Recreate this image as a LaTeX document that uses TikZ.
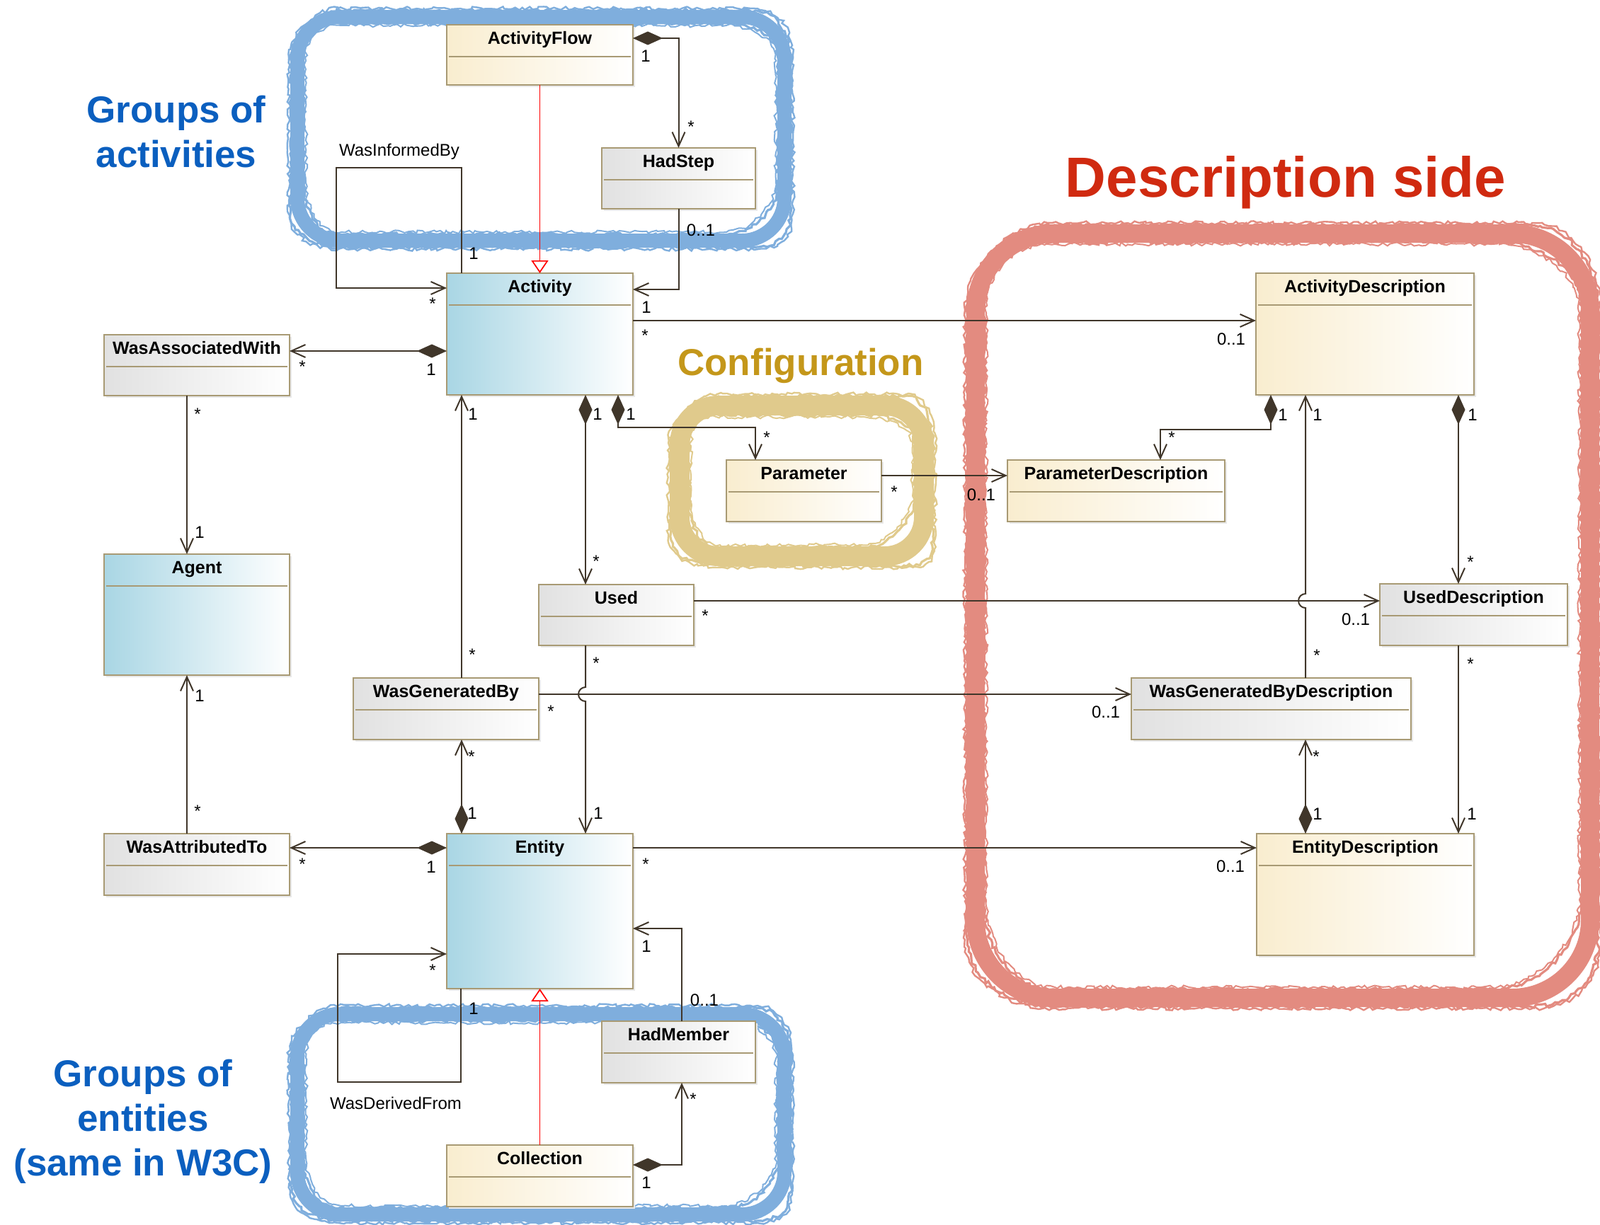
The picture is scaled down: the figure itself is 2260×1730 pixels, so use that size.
\documentclass[tikz,border=0pt]{standalone}
\usepackage{fontspec}
\setmainfont{Liberation Sans}
\usetikzlibrary{arrows.meta,calc,decorations.pathmorphing}

\definecolor{lnc}{HTML}{40362A}
\definecolor{clsborder}{HTML}{A89A74}
\definecolor{clsblue}{HTML}{A9D6E4}
\definecolor{clsyel}{HTML}{F9EDCF}
\definecolor{clsgray}{HTML}{E1E1E1}
\definecolor{blobblue}{HTML}{7FAEDD}
\definecolor{blobred}{HTML}{E38B80}
\definecolor{blobgold}{HTML}{E0CA8C}
\definecolor{txtblue}{HTML}{0B5FBF}
\definecolor{txtred}{HTML}{D02A10}
\definecolor{txtgold}{HTML}{C4971A}

\tikzset{
  clsbase/.style={rectangle, draw=clsborder, line width=0.9pt, inner sep=0pt, outer sep=0pt},
  bluecls/.style={clsbase, left color=clsblue, right color=white},
  yelcls/.style={clsbase, left color=clsyel, right color=white},
  graycls/.style={clsbase, left color=clsgray, right color=white},
  clstitle/.style={font=\fontsize{12.5}{15}\selectfont\bfseries, inner sep=0pt, text=black},
  sepline/.style={draw=clsborder, line width=0.7pt},
  boxshadow/.style={fill=black!9},
  mult/.style={font=\fontsize{12}{14}\selectfont, inner sep=0pt, text=black},
  conn/.style={draw=lnc, line width=1pt},
  assoc/.style={conn, -{Straight Barb[length=10pt,width=9pt,line width=1pt]}},
  comp/.style={conn, {Diamond[length=21pt,width=9.5pt,fill=lnc,line width=0.4pt]}-{Straight Barb[length=10pt,width=9pt,line width=1pt]}},
  gen/.style={draw=red, line width=0.85pt, -{Triangle[open,length=9pt,width=12pt,fill=white,line width=0.85pt]}},
  bigtxt/.style={font=\fontsize{26.5}{31}\selectfont\bfseries, inner sep=0pt, anchor=base},
  rough/.style={decorate, decoration={random steps, segment length=2.5pt, amplitude=1.3pt}},
}

\newcommand\umlbox[7]{%
  \pgfmathsetmacro\bw{(#4-#2)*0.5}%
  \pgfmathsetmacro\bh{(#5-#3)*0.5}%
  \fill[boxshadow] (#2+3,#3+3) rectangle (#4+3,#5+3);%
  \node[#7, anchor=north west, minimum width=\bw pt, minimum height=\bh pt] (#1) at (#2,#3) {};%
  \draw[sepline] ($(#1.north west)+(3,45)$) -- ($(#1.north east)+(-3,45)$);%
  \node[clstitle, anchor=base] (#1-t) at ($(#1.north)+(0,27)$) {#6};%
}
\newcommand\ml[4]{\node[mult] (#1) at (#2,#3) {#4};}

% rounded rectangle path: x1,y1,x2,y2,r  (px units)
\newcommand\rrpath[5]{(#1+#5,#2) -- (#3-#5,#2) .. controls (#3-0.448*#5,#2) and (#3,#2+0.448*#5) .. (#3,#2+#5) -- (#3,#4-#5) .. controls (#3,#4-0.448*#5) and (#3-0.448*#5,#4) .. (#3-#5,#4) -- (#1+#5,#4) .. controls (#1+0.448*#5,#4) and (#1,#4-0.448*#5) .. (#1,#4-#5) -- (#1,#2+#5) .. controls (#1,#2+0.448*#5) and (#1+0.448*#5,#2) .. (#1+#5,#2) -- cycle}

% blob: colour, x1,y1,x2,y2, half width (px), radius (px)
\newcommand\blob[7]{%
  \pgfmathsetmacro\bo{#6}%
  \pgfmathsetmacro\lw{#6}%
  \draw[#1, line width=\lw pt, line join=round] \rrpath{#2}{#3}{#4}{#5}{#7};%
  \draw[#1, line width=1.6pt, rough] \rrpath{#2-\bo+1}{#3-\bo+1}{#4+\bo-1}{#5+\bo-1}{#7+\bo};%
  \draw[#1, line width=1.6pt, rough] \rrpath{#2+\bo-1}{#3+\bo-1}{#4-\bo+1}{#5-\bo+1}{#7-\bo};%
  \draw[#1, line width=1.2pt, rough] \rrpath{#2-\bo-2}{#3-\bo-2}{#4+\bo+2}{#5+\bo+2}{#7+\bo};%
  \draw[#1, line width=1.0pt, rough] \rrpath{#2+\bo+2}{#3+\bo+2}{#4-\bo-2}{#5-\bo-2}{#7-\bo};%
}

\begin{document}
\begin{tikzpicture}[x=0.5pt, y=-0.5pt]
\useasboundingbox (0,0) rectangle (2260,1730);
\clip (0,0) rectangle (2260,1730);

% ---------- highlight blobs ----------
\blob{blobblue}{420}{24}{1108}{340}{10}{60}
\blob{blobblue}{420}{1433}{1108}{1716}{10}{60}
\blob{blobgold}{960}{573}{1305}{786}{14}{55}
\blob{blobred}{1378}{330}{2246}{1410}{13}{110}

% ---------- big labels ----------
\node[bigtxt, text=txtblue] (g1a) at (249,173) {Groups of};
\node[bigtxt, text=txtblue] (g1b) at (249,236) {activities};
\node[bigtxt, text=txtblue] (g2a) at (202,1535) {Groups of};
\node[bigtxt, text=txtblue] (g2b) at (202,1598) {entities};
\node[bigtxt, text=txtblue] (g2c) at (202,1661) {(same in W3C)};
\node[bigtxt, text=txtred, font=\fontsize{40}{46}\selectfont\bfseries] (dside) at (1816,278) {Description side};
\node[bigtxt, text=txtgold] (conf) at (1131,530) {Configuration};

% ---------- classes ----------
\umlbox{AF}{631}{35}{894}{120}{ActivityFlow}{yelcls}
\umlbox{HS}{850}{209}{1067}{295}{HadStep}{graycls}
\umlbox{Act}{631}{386}{894}{558}{Activity}{bluecls}
\umlbox{WAW}{147}{473}{409}{559}{WasAssociatedWith}{graycls}
\umlbox{Agent}{147}{783}{409}{954}{Agent}{bluecls}
\umlbox{Param}{1026}{650}{1245}{737}{Parameter}{yelcls}
\umlbox{PD}{1423}{650}{1730}{737}{ParameterDescription}{yelcls}
\umlbox{AD}{1774}{386}{2082}{558}{ActivityDescription}{yelcls}
\umlbox{Used}{761}{826}{980}{912}{Used}{graycls}
\umlbox{UD}{1949}{825}{2214}{912}{UsedDescription}{graycls}
\umlbox{WGB}{499}{958}{761}{1045}{WasGeneratedBy}{graycls}
\umlbox{WGBD}{1598}{958}{1993}{1045}{WasGeneratedByDescription}{graycls}
\umlbox{WAT}{147}{1178}{409}{1265}{WasAttributedTo}{graycls}
\umlbox{Ent}{631}{1178}{894}{1397}{Entity}{bluecls}
\umlbox{ED}{1775}{1178}{2082}{1350}{EntityDescription}{yelcls}
\umlbox{HM}{850}{1443}{1067}{1530}{HadMember}{graycls}
\umlbox{Coll}{631}{1618}{894}{1705}{Collection}{yelcls}

% ---------- connectors ----------
% ActivityFlow -> HadStep
\draw[comp] ($(AF.north east)+(0,19)$) -| (HS.north);
\ml{m1}{912}{79}{1} \ml{m2}{976}{179}{*}
% ActivityFlow generalizes Activity
\draw[gen] (AF.south) -- (Act.north);
% WasInformedBy
\draw[assoc] ($(Act.north west)+(21,0)$) -- ++(0,-149) -- ++(-177,0) -- ++(0,170) -- ($(Act.north west)+(0,21)$);
\node[mult] (wib) at (564,214) {WasInformedBy};
\ml{m3}{669}{358}{1} \ml{m4}{611}{429}{*}
% HadStep -> Activity
\draw[assoc] (HS.south) |- ($(Act.north east)+(0,23)$);
\ml{m5}{990}{325}{0..1} \ml{m6}{913}{434}{1}
% Activity -> ActivityDescription
\draw[assoc] ($(Act.north east)+(0,67)$) -- ($(AD.north west)+(0,67)$);
\ml{m7}{911}{474}{*} \ml{m8}{1739}{479}{0..1}
% Activity -> WasAssociatedWith
\draw[comp] ($(Act.north west)+(0,110)$) -- ($(WAW.north east)+(0,23)$);
\ml{m9}{609}{522}{1} \ml{m10}{427}{518}{*}
% WasAssociatedWith -> Agent
\draw[assoc] ($(WAW.south west)+(117,0)$) -- ($(Agent.north west)+(117,0)$);
\ml{m11}{279}{585}{*} \ml{m12}{282}{752}{1}
% Activity -> Used
\draw[comp] ($(Act.south west)+(196,0)$) -- ($(Used.north west)+(66,0)$);
\ml{m13}{844}{585}{1} \ml{m14}{842}{793}{*}
% Activity -> Parameter
\draw[comp] ($(Act.south west)+(242,0)$) -- ++(0,46) -| ($(Param.north west)+(41,0)$);
\ml{m15}{891}{585}{1} \ml{m16}{1083}{618}{*}
% Parameter -> ParameterDescription
\draw[assoc] ($(Param.north east)+(0,22)$) -- ($(PD.north west)+(0,22)$);
\ml{m17}{1263}{695}{*} \ml{m18}{1386}{699}{0..1}
% ActivityDescription -> ParameterDescription
\draw[comp] ($(AD.south west)+(21,0)$) -- ++(0,49) -| ($(PD.north west)+(216,0)$);
\ml{m19}{1812}{586}{1} \ml{m20}{1655}{618}{*}
% WasGeneratedByDescription -> ActivityDescription (hop)
\draw[assoc] ($(WGBD.north west)+(246,0)$) -- ++(0,-99) arc[start angle=270, end angle=90, radius=5pt] -- ($(AD.south west)+(70,0)$);
\ml{m21}{1861}{586}{1} \ml{m22}{1860}{926}{*}
% ActivityDescription -> UsedDescription
\draw[comp] ($(AD.south west)+(286,0)$) -- ($(UD.north west)+(111,0)$);
\ml{m23}{2080}{586}{1} \ml{m24}{2077}{794}{*}
% Used -> UsedDescription
\draw[assoc] ($(Used.north east)+(0,23)$) -- ($(UD.north west)+(0,24)$);
\ml{m25}{996}{870}{*} \ml{m26}{1915}{875}{0..1}
% Used -> Entity (hop)
\draw[assoc] ($(Used.south west)+(66,0)$) -- ++(0,59) arc[start angle=90, end angle=270, radius=5pt] -- ($(Ent.north west)+(196,0)$);
\ml{m27}{842}{937}{*} \ml{m28}{845}{1149}{1}
% WasGeneratedBy -> Activity
\draw[assoc] ($(WGB.north west)+(153,0)$) -- ($(Act.south west)+(21,0)$);
\ml{m29}{668}{585}{1} \ml{m30}{667}{925}{*}
% WasGeneratedBy -> WasGeneratedByDescription
\draw[assoc] ($(WGB.north east)+(0,23)$) -- ($(WGBD.north west)+(0,23)$);
\ml{m31}{778}{1005}{*} \ml{m32}{1562}{1006}{0..1}
% Entity -> WasGeneratedBy
\draw[comp] ($(Ent.north west)+(21,0)$) -- ($(WGB.south west)+(153,0)$);
\ml{m33}{667}{1149}{1} \ml{m34}{666}{1069}{*}
% Entity -> WasAttributedTo
\draw[comp] ($(Ent.north west)+(0,20)$) -- ($(WAT.north east)+(0,20)$);
\ml{m35}{609}{1225}{1} \ml{m36}{427}{1221}{*}
% WasAttributedTo -> Agent
\draw[assoc] ($(WAT.north west)+(117,0)$) -- ($(Agent.south west)+(117,0)$);
\ml{m37}{282}{983}{1} \ml{m38}{279}{1146}{*}
% Entity -> EntityDescription
\draw[assoc] ($(Ent.north east)+(0,20)$) -- ($(ED.north west)+(0,20)$);
\ml{m39}{912}{1221}{*} \ml{m40}{1738}{1224}{0..1}
% EntityDescription -> WasGeneratedByDescription
\draw[comp] ($(ED.north west)+(69,0)$) -- ($(WGBD.south west)+(246,0)$);
\ml{m41}{1861}{1150}{1} \ml{m42}{1859}{1069}{*}
% UsedDescription -> EntityDescription
\draw[assoc] ($(UD.south west)+(111,0)$) -- ($(ED.north west)+(285,0)$);
\ml{m43}{2077}{938}{*} \ml{m44}{2079}{1150}{1}
% WasDerivedFrom
\draw[assoc] ($(Ent.south west)+(20,0)$) -- ++(0,132) -- ++(-174,0) -- ++(0,-181) -- ($(Ent.north west)+(0,170)$);
\node[mult] (wdf) at (559,1559) {WasDerivedFrom};
\ml{m45}{669}{1425}{1} \ml{m46}{611}{1371}{*}
% Collection generalizes Entity
\draw[gen] (Coll.north) -- (Ent.south);
% HadMember -> Entity
\draw[assoc] ($(HM.north west)+(113,0)$) |- ($(Ent.north east)+(0,134)$);
\ml{m47}{995}{1413}{0..1} \ml{m48}{913}{1337}{1}
% Collection -> HadMember
\draw[comp] ($(Coll.north east)+(0,28)$) -| ($(HM.south west)+(113,0)$);
\ml{m49}{913}{1671}{1} \ml{m50}{979}{1553}{*}
\end{tikzpicture}
\end{document}
